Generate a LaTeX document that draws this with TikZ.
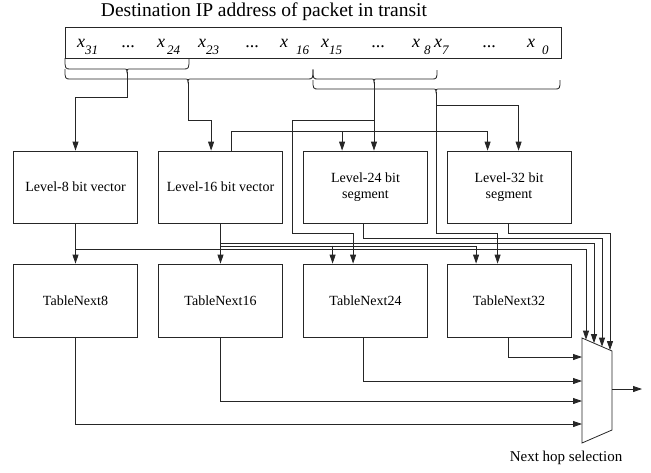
\documentclass[tikz,border=0pt]{standalone}
\usepackage{fontspec}
\setmainfont{Liberation Serif}
\usetikzlibrary{arrows.meta,calc}
\newcommand\mysub[1]{\raisebox{-7pt}{\fontsize{13}{13}\selectfont\itshape #1}}
\newcommand\mybrace[5]{\draw[ln] (#1,#3) .. controls (#1,#4) .. (#1+6,#4) -- (#5-4,#4) .. controls (#5,#4) .. (#5,#4+3) .. controls (#5,#4) .. (#5+4,#4) -- (#2-6,#4) .. controls (#2,#4) .. (#2,#3);}
\begin{document}
\begin{tikzpicture}[x=1pt,y=-1pt,
  ln/.style={line width=0.8pt, draw=black!85},
  arr/.style={ln, -{Triangle[length=9pt,width=6pt]}},
  box/.style={ln, draw, rectangle, minimum width=124pt, minimum height=72pt, inner sep=0pt, align=center, font=\fontsize{14}{16}\selectfont},
  lab/.style={anchor=base west, inner sep=0pt, font=\fontsize{18}{18}\selectfont\itshape},
  dots/.style={anchor=base, inner sep=0pt, font=\fontsize{18}{18}\selectfont}]
\useasboundingbox (0,0) rectangle (651,472);

% title and address box
\node[inner sep=0pt, font=\fontsize{19.5}{19.5}\selectfont] (title) at (264,12) {Destination IP address of packet in transit};
\node[ln, draw, rectangle, minimum width=496pt, minimum height=31pt, inner sep=0pt] (ip) at (313,42.5) {};

% bit labels
\node[lab] (x31) at (77,47) {x\mysub{31}};
\node[dots] (d1) at (128,47) {...};
\node[lab] (x24) at (157,47) {x\hspace{2pt}\mysub{24}};
\node[lab] (x23) at (198,47) {x\mysub{23}};
\node[dots] (d2) at (252,47) {...};
\node[lab] (x16) at (280,47) {x\hspace{8pt}\mysub{16}};
\node[lab] (x15) at (321,47) {x\mysub{15}};
\node[dots] (d3) at (378,47) {...};
\node[lab] (x8) at (412,47) {x\hspace{4pt}\mysub{8}};
\node[lab] (x7) at (434,47) {x\mysub{7}};
\node[dots] (d4) at (489,47) {...};
\node[lab] (x0) at (527,47) {x\hspace{7pt}\mysub{0}};

% braces
\mybrace{65}{189}{58}{69}{127}
\mybrace{65}{313}{69}{79}{188}
\mybrace{313}{437}{70}{79}{374}
\mybrace{313}{560}{80}{89}{436}
\coordinate (t1) at (127,72);
\coordinate (t2) at (188,82);
\coordinate (t3) at (374,82);
\coordinate (t4) at (436,92);

% boxes
\node[box] (L8)  at (75.5,187)  {Level-8 bit vector};
\node[box] (L16) at (220.5,187) {Level-16 bit vector};
\node[box] (L24) at (365.5,187) {Level-24 bit\\segment};
\node[box] (L32) at (509,187)   {Level-32 bit\\segment};
\node[box, minimum height=73pt] (T8)  at (75.5,300.5)  {TableNext8};
\node[box, minimum height=73pt] (T16) at (220.5,300.5) {TableNext16};
\node[box, minimum height=73pt] (T24) at (365.5,300.5) {TableNext24};
\node[box, minimum height=73pt] (T32) at (509,300.5)   {TableNext32};

% multiplexer
\coordinate (mA) at (582,338);
\coordinate (mB) at (612,351);
\coordinate (mC) at (612,430);
\coordinate (mD) at (582,443);
\draw[ln] (mA) -- (mB) -- (mC) -- (mD) -- cycle;
\coordinate (m1) at (586,339.7);
\coordinate (m2) at (594,343.2);
\coordinate (m3) at (602,346.7);
\coordinate (m4) at (610,350.1);
\coordinate (i1) at (582,357);
\coordinate (i2) at (582,381);
\coordinate (i3) at (582,401);
\coordinate (i4) at (582,424);
\coordinate (mo) at (612,389);
\coordinate (out) at (642,389);
\node[inner sep=0pt, font=\fontsize{15}{15}\selectfont] (nh) at (566,458) {Next hop selection};

% connectors from the braces
\draw[arr] (t1) -- ++(0,25) -| (L8.north);
\draw[arr] (t2) -- ++(0,38) -| ($(L16.north west)+(53,0)$);
\draw[arr] (t3) -- (t3 |- L24.north);
\coordinate (b3) at (374,120);
\coordinate (c3) at (292,233);
\draw[arr] (b3) -| (c3) -| ($(T24.north west)+(50,0)$);
\draw[arr] (t4) -- ++(0,13) -| ($(L32.north west)+(72,0)$);
\draw[arr] (t4) -- ++(0,141) -| ($(T32.north west)+(51,0)$);
\draw[arr] ($(L16.north west)+(73,0)$) -- ++(0,-19) -| ($(L32.north west)+(41,0)$);
\draw[arr] ($(L24.north west)+(39,-19)$) -- ($(L24.north west)+(39,0)$);

% middle connectors
\draw[arr] (L8.south) -- (T8.north);
\draw[arr] (L16.south) -- (T16.north);
\coordinate (j8) at (75.5,249);
\coordinate (j16a) at (220.5,243);
\coordinate (j16b) at (220.5,246);
\draw[arr] (j8) -| (m1);
\draw[arr] (j16a) -| (m2);
\draw[arr] (j16b) -| ($(T32.north west)+(29.5,0)$);
\draw[arr] ($(T24.north west)+(29.5,-18)$) -- ($(T24.north west)+(29.5,0)$);
\draw[arr] ($(L24.south west)+(60.5,0)$) -- ++(0,15) -| (m3);
\draw[arr] ($(L32.south west)+(62,0)$) -- ++(0,10) -| (m4);

% bottom connectors
\draw[arr] ($(T32.south west)+(62,0)$) |- (i1);
\draw[arr] ($(T24.south west)+(60.5,0)$) |- (i2);
\draw[arr] (T16.south) |- (i3);
\draw[arr] (T8.south) |- (i4);
\draw[arr] (mo) -- (out);
\end{tikzpicture}
\end{document}
